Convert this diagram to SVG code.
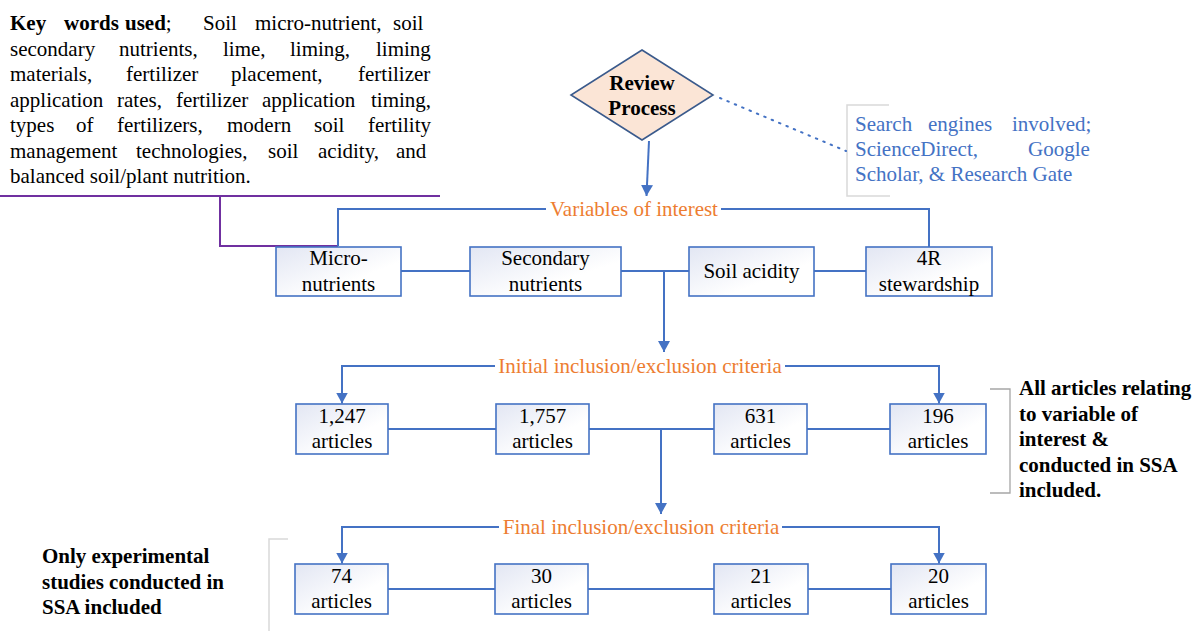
<svg xmlns="http://www.w3.org/2000/svg" width="1197" height="631" viewBox="0 0 1197 631">
<defs>
<linearGradient id="boxg" x1="0" y1="0" x2="1" y2="1">
<stop offset="0" stop-color="#E2E6F3"/>
<stop offset="0.65" stop-color="#FFFFFF"/>
</linearGradient>
<marker id="ah" viewBox="0 0 11 12" refX="11" refY="6" markerWidth="11" markerHeight="12" markerUnits="userSpaceOnUse" orient="auto">
<path d="M0,0 L11,6 L0,12 z" fill="#4472C4"/>
</marker>
<style>
.box{fill:url(#boxg);stroke:#4472C4;stroke-width:1.6}
.con{fill:none;stroke:#4472C4;stroke-width:2}
.gr{fill:none;stroke:#D9D9D9;stroke-width:1.5}
</style>
</defs>
<rect width="1197" height="631" fill="#FFFFFF"/>

<g id="keywords" fill="#000000">
<text font-family="Liberation Serif" font-size="21" y="30"><tspan x="10" font-weight="bold">Key</tspan><tspan x="64" font-weight="bold">words</tspan><tspan x="125" font-weight="bold">used</tspan><tspan>;</tspan><tspan x="203">Soil</tspan><tspan x="255">micro-nutrient,</tspan><tspan x="393">soil</tspan></text>
<text font-family="Liberation Serif" font-size="21" y="55.5"><tspan x="10">secondary</tspan><tspan x="119">nutrients,</tspan><tspan x="223">lime,</tspan><tspan x="290">liming,</tspan><tspan x="376">liming</tspan></text>
<text font-family="Liberation Serif" font-size="21" y="81"><tspan x="10">materials,</tspan><tspan x="126">fertilizer</tspan><tspan x="231">placement,</tspan><tspan x="358">fertilizer</tspan></text>
<text font-family="Liberation Serif" font-size="21" y="106.5"><tspan x="10">application</tspan><tspan x="117">rates,</tspan><tspan x="176">fertilizer</tspan><tspan x="262">application</tspan><tspan x="371">timing,</tspan></text>
<text font-family="Liberation Serif" font-size="21" y="132"><tspan x="10">types</tspan><tspan x="76">of</tspan><tspan x="117">fertilizers,</tspan><tspan x="227">modern</tspan><tspan x="314">soil</tspan><tspan x="368">fertility</tspan></text>
<text font-family="Liberation Serif" font-size="21" y="157.5"><tspan x="10">management</tspan><tspan x="136">technologies,</tspan><tspan x="268">soil</tspan><tspan x="318">acidity,</tspan><tspan x="396">and</tspan></text>
<text font-family="Liberation Serif" font-size="21" x="10" y="183">balanced soil/plant nutrition.</text>
<path d="M0,196 H440 M220,196 V246 H338" fill="none" stroke="#7030A0" stroke-width="2"/>
</g>

<g id="review">
<polygon points="642,50 713,95 642,140 571,95" fill="#FBE5D6" stroke="#3A5A8C" stroke-width="1.6"/>
<text font-family="Liberation Serif" font-size="21" font-weight="bold" text-anchor="middle" x="642" y="90">Review</text>
<text font-family="Liberation Serif" font-size="21" font-weight="bold" text-anchor="middle" x="642" y="115">Process</text>
</g>

<g id="search" fill="#4472C4">
<path class="gr" d="M889,105 H847 V196 H890"/>
<text font-family="Liberation Serif" font-size="21" y="131"><tspan x="855">Search</tspan><tspan x="928">engines</tspan><tspan x="1012">involved;</tspan></text>
<text font-family="Liberation Serif" font-size="21" y="156"><tspan x="855">ScienceDirect,</tspan><tspan x="1028">Google</tspan></text>
<text font-family="Liberation Serif" font-size="21" x="855" y="181">Scholar, &amp; Research Gate</text>
</g>

<g id="connectors">
<path d="M720,98 L846,151" fill="none" stroke="#4472C4" stroke-width="2" stroke-dasharray="1.5 6.5" stroke-linecap="round"/>
<path class="con" d="M649,141 L646.5,196" marker-end="url(#ah)"/>
<path class="con" d="M338,246 V209 H546 M721,209 H929 V247"/>
<path class="con" d="M401,271 H470 M621,271 H689 M814,271 H866"/>
<path class="con" d="M664,271 V352" marker-end="url(#ah)"/>
<path class="con" d="M495,366 H342 V403.5" marker-end="url(#ah)"/>
<path class="con" d="M785,366 H939 V403.5" marker-end="url(#ah)"/>
<path class="con" d="M388,429 H496 M589,429 H714 M807,429 H890"/>
<path class="con" d="M661,429 V514" marker-end="url(#ah)"/>
<path class="con" d="M499,527 H342 V563.5" marker-end="url(#ah)"/>
<path class="con" d="M782,527 H939 V563.5" marker-end="url(#ah)"/>
<path class="con" d="M388,589 H495 M588,589 H714 M808,589 H891"/>
</g>

<g id="labels" fill="#ED7D31" text-anchor="middle">
<text font-family="Liberation Serif" font-size="21" x="634" y="216">Variables of interest</text>
<text font-family="Liberation Serif" font-size="21" x="640" y="373">Initial inclusion/exclusion criteria</text>
<text font-family="Liberation Serif" font-size="21" x="641" y="534">Final inclusion/exclusion criteria</text>
</g>

<g id="nodes" text-anchor="middle">
<g id="micro"><rect class="box" x="276" y="247" width="125" height="49"/><text font-family="Liberation Serif" font-size="21" x="338.5" y="265">Micro-</text><text font-family="Liberation Serif" font-size="21" x="338.5" y="290.5">nutrients</text></g>
<g id="secondary"><rect class="box" x="470" y="247" width="151" height="49"/><text font-family="Liberation Serif" font-size="21" x="545.5" y="265">Secondary</text><text font-family="Liberation Serif" font-size="21" x="545.5" y="290.5">nutrients</text></g>
<g id="acidity"><rect class="box" x="689" y="247" width="125" height="49"/><text font-family="Liberation Serif" font-size="21" x="751.5" y="278">Soil acidity</text></g>
<g id="stewardship"><rect class="box" x="866" y="247" width="126" height="49"/><text font-family="Liberation Serif" font-size="21" x="929" y="265">4R</text><text font-family="Liberation Serif" font-size="21" x="929" y="290.5">stewardship</text></g>

<g id="a1247"><rect class="box" x="296" y="404" width="92" height="50"/><text font-family="Liberation Serif" font-size="21" x="342" y="423">1,247</text><text font-family="Liberation Serif" font-size="21" x="342" y="448">articles</text></g>
<g id="a1757"><rect class="box" x="496" y="404" width="93" height="50"/><text font-family="Liberation Serif" font-size="21" x="542.5" y="423">1,757</text><text font-family="Liberation Serif" font-size="21" x="542.5" y="448">articles</text></g>
<g id="a631"><rect class="box" x="714" y="404" width="93" height="50"/><text font-family="Liberation Serif" font-size="21" x="760.5" y="423">631</text><text font-family="Liberation Serif" font-size="21" x="760.5" y="448">articles</text></g>
<g id="a196"><rect class="box" x="890" y="404" width="96" height="50"/><text font-family="Liberation Serif" font-size="21" x="938" y="423">196</text><text font-family="Liberation Serif" font-size="21" x="938" y="448">articles</text></g>

<g id="a74"><rect class="box" x="295" y="564" width="93" height="50"/><text font-family="Liberation Serif" font-size="21" x="341.5" y="583">74</text><text font-family="Liberation Serif" font-size="21" x="341.5" y="608">articles</text></g>
<g id="a30"><rect class="box" x="495" y="564" width="93" height="50"/><text font-family="Liberation Serif" font-size="21" x="541.5" y="583">30</text><text font-family="Liberation Serif" font-size="21" x="541.5" y="608">articles</text></g>
<g id="a21"><rect class="box" x="714" y="564" width="94" height="50"/><text font-family="Liberation Serif" font-size="21" x="761" y="583">21</text><text font-family="Liberation Serif" font-size="21" x="761" y="608">articles</text></g>
<g id="a20"><rect class="box" x="891" y="564" width="95" height="50"/><text font-family="Liberation Serif" font-size="21" x="938.5" y="583">20</text><text font-family="Liberation Serif" font-size="21" x="938.5" y="608">articles</text></g>
</g>

<g id="allarticles" font-weight="bold">
<path d="M990,389 H1010 V493 H990" fill="none" stroke="#A6A6A6" stroke-width="1.3"/>
<text font-family="Liberation Serif" font-size="21" x="1019" y="395">All articles relating</text>
<text font-family="Liberation Serif" font-size="21" x="1019" y="420.5">to variable of</text>
<text font-family="Liberation Serif" font-size="21" x="1019" y="446">interest &amp;</text>
<text font-family="Liberation Serif" font-size="21" x="1019" y="471.5">conducted in SSA</text>
<text font-family="Liberation Serif" font-size="21" x="1019" y="497">included.</text>
</g>

<g id="experimental" font-weight="bold">
<path class="gr" d="M288,539 H269 V631"/>
<text font-family="Liberation Serif" font-size="21" x="42" y="563">Only experimental</text>
<text font-family="Liberation Serif" font-size="21" x="42" y="589">studies conducted in</text>
<text font-family="Liberation Serif" font-size="21" x="42" y="614">SSA included</text>
</g>
</svg>
